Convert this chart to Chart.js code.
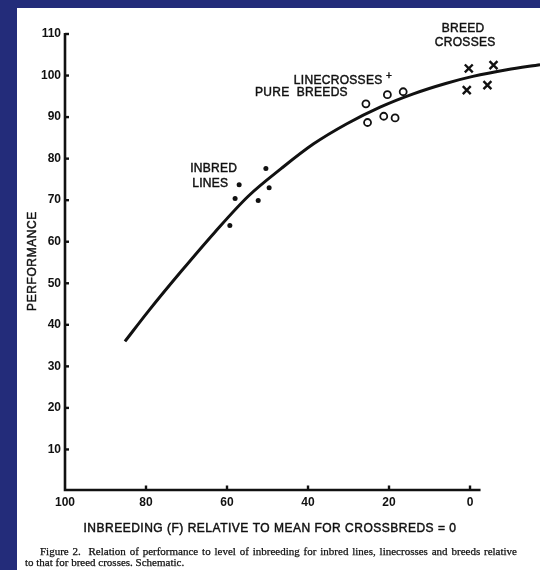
<!DOCTYPE html>
<html><head><meta charset="utf-8">
<script src="https://cdn.jsdelivr.net/npm/chart.js@4/dist/chart.umd.min.js"></script>
<style>html,body{margin:0;padding:0;background:#232c7a;overflow:hidden}canvas{display:block}</style>
</head><body>
<canvas id="c" width="540" height="570"></canvas>
<script>
// ---- data ----
const xTickValues = [100, 80, 60, 40, 20, 0];
const yTickValues = [10, 20, 30, 40, 50, 60, 70, 80, 90, 100, 110];

// schematic curve: inbreeding F (%) vs performance
const curveF = [85.2, 79.4, 71.2, 63.0, 54.7, 46.5, 38.7, 30.4, 22.2, 14.0, 6.0, -0.7, -9.1, -17.3];
const curveP = [36.0, 43.3, 53.0, 62.3, 71.0, 77.7, 83.5, 88.4, 92.4, 95.6, 98.1, 99.8, 101.4, 102.6];

const inbredF = [50.4, 57.0, 49.6, 58.0, 52.3, 59.3];
const inbredP = [77.6, 73.7, 73.0, 70.4, 69.9, 63.9];

const pureF = [25.7, 20.4, 16.5, 25.3, 21.3, 18.5];
const pureP = [93.2, 95.4, 96.1, 88.7, 90.2, 89.8];

const crossF = [0.3, -5.8, 0.8, -4.3];
const crossP = [101.7, 102.5, 96.5, 97.7];

const groupLabels = ['INBRED', 'LINES', 'LINECROSSES', '+', 'PURE  BREEDS', 'BREED', 'CROSSES'];
const yTitle = 'PERFORMANCE';
const xTitle = 'INBREEDING (F) RELATIVE TO MEAN FOR CROSSBREDS = 0';
const captionLines = [
  'Figure 2.  Relation of performance to level of inbreeding for inbred lines, linecrosses and breeds relative',
  'to that for breed crosses. Schematic.'
];

const pts = (xs, ys) => xs.map((x, i) => ({x: x, y: ys[i]}));

// ---- drawing helpers ----
const INK = '#111111';
const heavy = (c, txt, x, y, w) => { c.fillText(txt, x, y); c.lineWidth = w; c.strokeText(txt, x, y); };
const decor = {
  id: 'decor',
  beforeDraw(chart) {
    const c = chart.ctx;
    c.save();
    c.fillStyle = '#232c7a';
    c.fillRect(0, 0, chart.width, chart.height);
    c.fillStyle = '#ffffff';
    c.fillRect(17, 8, chart.width - 17, chart.height - 8);
    c.restore();
  },
  afterDraw(chart) {
    const c = chart.ctx;
    const xs = chart.scales.x, ys = chart.scales.y;
    const X = v => xs.getPixelForValue(v), Y = v => ys.getPixelForValue(v);
    const left = X(100), bottom = Y(0) - 1;
    c.save();
    c.strokeStyle = INK; c.fillStyle = INK;
    // axes
    c.lineWidth = 2.6; c.lineCap = 'butt';
    c.beginPath();
    c.moveTo(left, Y(110) - 1); c.lineTo(left, bottom);
    c.lineTo(X(-2.6), bottom);
    c.stroke();
    // inward tick marks
    c.lineWidth = 2.4;
    ys.ticks.forEach(t => {
      const y = Y(t.value);
      c.beginPath(); c.moveTo(left, y); c.lineTo(left + 4, y); c.stroke();
    });
    xs.ticks.forEach(t => {
      const x = X(t.value);
      if (t.value === 100) return;
      c.beginPath(); c.moveTo(x, bottom); c.lineTo(x, bottom - 4.5); c.stroke();
    });
    // group labels
    c.textBaseline = 'middle';
    c.textAlign = 'left';
    c.font = '12px "Liberation Sans", Arial, sans-serif';
    c.letterSpacing = '0.3px';
    const lab = (txt, f, p) => heavy(c, txt, X(f), Y(p), 0.45);
    lab(groupLabels[0], 69.1, 77.6);
    lab(groupLabels[1], 68.6, 74.0);
    lab(groupLabels[2], 43.5, 98.8);
    lab(groupLabels[4], 53.1, 95.9);
    lab(groupLabels[5], 7.0, 111.3);
    lab(groupLabels[6], 8.7, 108.0);
    c.font = '10px "Liberation Sans", Arial, sans-serif';
    c.letterSpacing = '0px';
    c.textAlign = 'center';
    lab(groupLabels[3], 20.0, 99.9);
    // axis titles
    c.font = '12px "Liberation Sans", Arial, sans-serif';
    c.letterSpacing = '0.5px';
    c.textAlign = 'center';
    heavy(c, xTitle, 270, 529, 0.45);
    c.save();
    c.translate(33, 261);
    c.rotate(-Math.PI / 2);
    c.letterSpacing = '0.6px';
    heavy(c, yTitle, 0, 0, 0.45);
    c.restore();
    // caption (serif, first line justified)
    c.letterSpacing = '0px';
    c.textAlign = 'left';
    c.font = '11px "Liberation Serif", "Times New Roman", serif';
    const w = c.measureText(captionLines[0]).width;
    const nSp = captionLines[0].split(' ').length - 1;
    const target = 477;
    c.wordSpacing = Math.max(0, (target - w) / nSp) + 'px';
    heavy(c, captionLines[0], 40, 552, 0.25);
    c.wordSpacing = '0px';
    heavy(c, captionLines[1], 25, 563, 0.25);
    c.restore();
  }
};

new Chart(document.getElementById('c'), {
  data: {
    datasets: [
      { type: 'line', data: pts(curveF, curveP), borderColor: INK, borderWidth: 3,
        pointRadius: 0, cubicInterpolationMode: 'monotone', fill: false, order: 5 },
      { type: 'scatter', data: pts(inbredF, inbredP), pointStyle: 'circle', pointRadius: 2.5,
        backgroundColor: INK, borderColor: INK, borderWidth: 0 },
      { type: 'scatter', data: pts(pureF, pureP), pointStyle: 'circle', pointRadius: 3.5,
        backgroundColor: 'rgba(255,255,255,0)', borderColor: INK, borderWidth: 1.8 },
      { type: 'scatter', data: pts(crossF, crossP), pointStyle: 'crossRot', pointRadius: 5.6,
        borderColor: INK, borderWidth: 2.4 }
    ]
  },
  options: {
    responsive: false,
    devicePixelRatio: 1,
    animation: false,
    events: [],
    layout: { autoPadding: false, padding: { left: 0, right: 0, top: 34, bottom: 0 } },
    plugins: { legend: { display: false }, tooltip: { enabled: false } },
    scales: {
      x: {
        type: 'linear', reverse: true, min: -17.28, max: 100,
        afterBuildTicks: s => { s.ticks = xTickValues.map(v => ({ value: v })); },
        afterFit: s => { s.height = 79; s.paddingLeft = 0; s.paddingRight = 0; },
        grid: { display: false, drawTicks: false },
        border: { display: false },
        ticks: { padding: 4, color: INK, maxRotation: 0, autoSkip: false,
                 font: { family: '"Liberation Sans", Arial, sans-serif', size: 12, weight: 'bold' },
                 callback: v => String(v) }
      },
      y: {
        type: 'linear', min: 0, max: 110,
        afterBuildTicks: s => { s.ticks = yTickValues.map(v => ({ value: v })); },
        afterFit: s => { s.width = 65; s.paddingTop = 0; s.paddingBottom = 0; },
        grid: { display: false, drawTicks: false },
        border: { display: false },
        ticks: { padding: 4, color: INK, autoSkip: false,
                 font: { family: '"Liberation Sans", Arial, sans-serif', size: 12, weight: 'bold' },
                 callback: v => String(v) }
      }
    }
  },
  plugins: [decor]
});
</script>
</body></html>
